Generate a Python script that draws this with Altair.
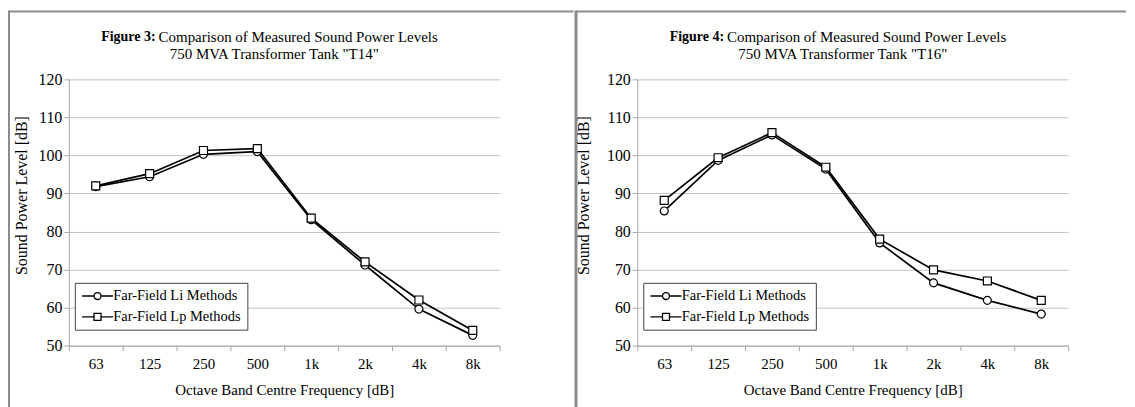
import altair as alt
import pandas as pd

# ---- data ----
freqs = ["63", "125", "250", "500", "1k", "2k", "4k", "8k"]
t14_li = [91.8, 94.4, 100.3, 101.0, 83.1, 71.2, 59.6, 52.7]
t14_lp = [92.0, 95.2, 101.3, 101.8, 83.5, 72.0, 62.0, 54.0]
t16_li = [85.4, 98.7, 105.4, 96.4, 77.0, 66.5, 61.9, 58.3]
t16_lp = [88.2, 99.4, 106.0, 96.9, 78.0, 69.9, 67.0, 61.9]
series_names = ["Far-Field Li Methods", "Far-Field Lp Methods"]
fig_numbers = ["Figure 3:", "Figure 4:"]
fig_title = "Comparison of Measured Sound Power Levels"
fig_subtitles = ['750 MVA Transformer Tank "T14"', '750 MVA Transformer Tank "T16"']
x_title = "Octave Band Centre Frequency [dB]"
y_title = "Sound Power Level [dB]"
y_ticks = [50, 60, 70, 80, 90, 100, 110, 120]

FONT = "Liberation Serif"
W, H = 432, 267
FRAME = "#8c8c8c"

# legend symbols: line segment with marker (custom SVG paths)
PATH_CIRCLE = ("M-1,0H1.0 M2.167,0H4.167 "
               "M2.167,0A0.583,0.583 0 1,1 1.0,0A0.583,0.583 0 1,1 2.167,0")
PATH_SQUARE = ("M-1,0H1.0 M2.167,0H4.167 "
               "M1.0,-0.583H2.167V0.583H1.0Z")

one_row = alt.Data(values=[{"k": 0}])


def panel(li, lp, fig_no, subtitle, frame_x, frame_w, top_end, ytitle_pad):
    df = pd.DataFrame({
        "freq": freqs * 2,
        "level": li + lp,
        "series": [series_names[0]] * len(freqs) + [series_names[1]] * len(freqs),
    })
    base = alt.Chart(df)
    x = alt.X("freq:N", sort=freqs,
              scale=alt.Scale(type="band", paddingInner=0, paddingOuter=0),
              axis=alt.Axis(title=x_title, labelAngle=0, tickBand="extent",
                            grid=False, domainColor="#a6a6a6", tickColor="#a6a6a6",
                            tickSize=5, labelFont=FONT, labelFontSize=15,
                            labelColor="black", labelPadding=6,
                            titleFont=FONT, titleFontSize=15, titleFontWeight="normal",
                            titleColor="black", titlePadding=11))
    y = alt.Y("level:Q",
              scale=alt.Scale(domain=[50, 120], nice=False, zero=False),
              axis=alt.Axis(title=y_title, values=y_ticks, grid=True,
                            gridColor="#c4c4c4", domainColor="#a6a6a6",
                            tickColor="#a6a6a6", tickSize=5, labelFont=FONT,
                            labelFontSize=16, labelColor="black", labelPadding=2,
                            titleFont=FONT, titleFontSize=16, titleFontWeight="normal",
                            titleColor="black", titlePadding=ytitle_pad, titleY=116))

    layers = []
    shapes = ["circle", "square"]
    for name, shp in zip(series_names, shapes):
        sub = base.transform_filter(alt.datum.series == name)
        layers.append(sub.mark_line(color="black", strokeWidth=1.7).encode(x=x, y=y))
        layers.append(sub.mark_point(shape=shp, size=64, filled=True, fill="white",
                                     stroke="black", strokeWidth=1.2, opacity=1)
                      .encode(x=x, y=y))

    legend_layer = base.mark_point(opacity=0).encode(
        x=x, y=y,
        shape=alt.Shape("series:N",
                        scale=alt.Scale(domain=series_names,
                                        range=[PATH_CIRCLE, PATH_SQUARE]),
                        legend=alt.Legend(title=None, orient="none", legendX=6,
                                          legendY=204, symbolSize=144,
                                          symbolOpacity=1, symbolFillColor="white",
                                          symbolStrokeColor="black",
                                          symbolStrokeWidth=1.3,
                                          labelFont=FONT, labelFontSize=14.5,
                                          labelColor="black", labelOffset=18,
                                          strokeColor="#404040", fillColor="white",
                                          padding=6, rowPadding=6)))
    layers.append(legend_layer)

    # frame lines
    layers.append(alt.Chart(one_row).mark_rule(color=FRAME, strokeWidth=frame_w)
                  .encode(x=alt.value(frame_x), y=alt.value(-69), y2=alt.value(332)))
    layers.append(alt.Chart(one_row).mark_rule(color=FRAME, strokeWidth=2)
                  .encode(x=alt.value(frame_x), x2=alt.value(top_end), y=alt.value(-68)))

    # titles
    layers.append(alt.Chart(one_row).mark_text(text=fig_no, font=FONT, fontSize=14,
                                               fontWeight="bold", align="right",
                                               baseline="middle", color="black")
                  .encode(x=alt.value(87), y=alt.value(-42)))
    layers.append(alt.Chart(one_row).mark_text(text=fig_title, font=FONT, fontSize=15,
                                               align="left", baseline="middle",
                                               color="black")
                  .encode(x=alt.value(90), y=alt.value(-42)))
    layers.append(alt.Chart(one_row).mark_text(text=subtitle, font=FONT, fontSize=15,
                                               align="center", baseline="middle",
                                               color="black")
                  .encode(x=alt.value(206), y=alt.value(-25)))

    return alt.layer(*layers).properties(width=W, height=H)


left = panel(t14_li, t14_lp, fig_numbers[0], fig_subtitles[0], -60, 2, 506, 8)
right = panel(t16_li, t16_lp, fig_numbers[1], fig_subtitles[1], -61.5, 3, 490, 15)

chart = (alt.hconcat(left, right, spacing=0)
         .resolve_scale(shape="independent")
         .resolve_legend(shape="independent")
         .properties(padding=0)
         .configure_view(stroke=None))

chart.save("out.html", embed_options={"renderer": "svg", "actions": False})
